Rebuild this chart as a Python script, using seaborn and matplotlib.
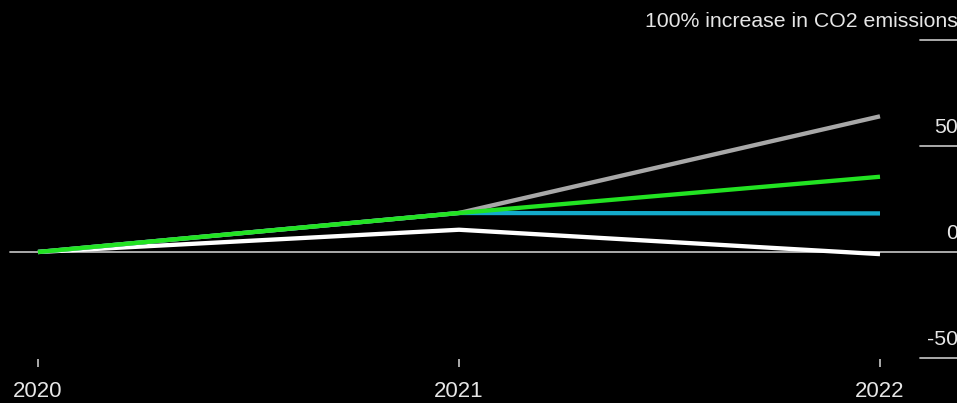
import matplotlib
matplotlib.use("Agg")
import matplotlib.pyplot as plt
import seaborn as sns
import pandas as pd

# Percent change in CO2 emissions relative to 2020
years = [2020, 2021, 2022]
series_names = ["Blue", "Gray", "Green", "White"]
blue_values = [0, 18.4, 18.2]
gray_values = [0, 18.4, 64.0]
green_values = [0, 18.4, 35.5]
white_values = [0, 10.5, -1.0]

y_ticks = [100, 50, 0, -50]
y_tick_labels = ["100% increase in CO2 emissions", "50", "0", "-50"]
x_tick_labels = ["2020", "2021", "2022"]

palette = {"White": "#ffffff", "Blue": "#14aacb", "Gray": "#a8a8a8", "Green": "#22e322"}

df = pd.DataFrame({
    "year": years * 4,
    "change": blue_values + gray_values + green_values + white_values,
    "series": [n for n in series_names for _ in years],
})

sns.set_theme(style="dark")
plt.rcParams["font.family"] = ["Liberation Sans", "DejaVu Sans"]

fig = plt.figure(figsize=(9.57, 4.03), dpi=100, facecolor="black")
ax = fig.add_axes([0, 0, 1, 1])
ax.set_facecolor("black")

# zero baseline and short right-hand gridline stubs
ax.axhline(0, xmin=10 / 957, xmax=1, color="#b8b8b8", lw=1.3, zorder=1)
for v in [100, 50, -50]:
    ax.axhline(v, xmin=920 / 957, xmax=1, color="#b8b8b8", lw=1.3, zorder=1)

sns.lineplot(data=df, x="year", y="change", hue="series", palette=palette,
             hue_order=["White", "Blue", "Gray", "Green"],
             linewidth=3.1, legend=False, ax=ax, zorder=3,
             solid_capstyle="butt")

ax.set_xlim(2020 - 38 / 421, 2020 + 919 / 421)
ax.set_ylim(-151 * 50 / 106, 252 * 50 / 106)

# right-side value labels sitting above each gridline
for v, lab in zip(y_ticks, y_tick_labels):
    ax.annotate(lab, xy=(1, v), xycoords=ax.get_yaxis_transform(),
                xytext=(1, 9), textcoords="offset pixels",
                ha="right", va="bottom", color="#e6e6e6", fontsize=15.3)

# year ticks and labels
ax.vlines(years, -50.6, -54.2, color="#b8b8b8", lw=1.3)
for yr, lab in zip(years, x_tick_labels):
    ax.text(yr, -65.8, lab, ha="center", va="center", color="#e6e6e6", fontsize=16)

ax.set_xlabel("")
ax.set_ylabel("")
ax.set_xticks([])
ax.set_yticks([])
for s in ax.spines.values():
    s.set_visible(False)
ax.grid(False)

fig.savefig("out.png", dpi=100, facecolor="black")
